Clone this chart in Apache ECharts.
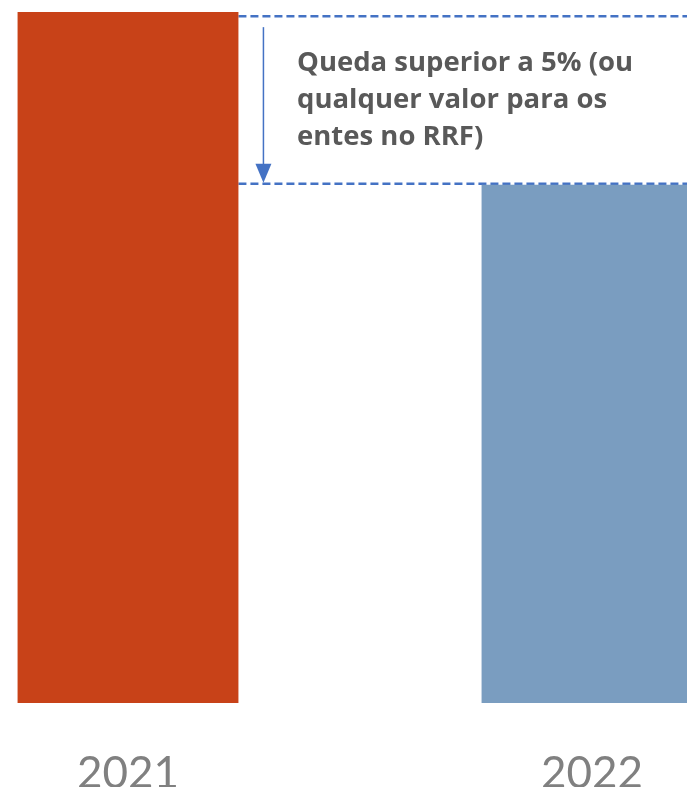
<!DOCTYPE html>
<html>
<head>
<meta charset="utf-8">
<script src="https://cdn.jsdelivr.net/npm/echarts@6/dist/echarts.min.js"></script>
<style>
  html, body { margin: 0; padding: 0; background: #fff; }
  #chart { width: 687px; height: 787px; }
</style>
</head>
<body>
<div id="chart"></div>
<script>
// Valores (escala relativa, 2021 = 100)
const years = ["2021", "2022"];
const values = [100, 75];
const barColors = ["#C84218", "#7A9DC0"];
const upperRef = 99.4; // linha tracejada superior
const lowerRef = 75;   // linha tracejada inferior
const noteLines = ["Queda superior a 5% (ou", "qualquer valor para os", "entes no RRF)"];

const blue = "#4472C4";
const gridW = 928;
const barRatio = 0.476;
const chart = echarts.init(document.getElementById("chart"));

chart.setOption({
  animation: false,
  grid: { left: -104, width: gridW, top: 12, bottom: 84, outerBoundsMode: "none", containLabel: false },
  xAxis: {
    type: "category",
    data: years,
    axisLine: { show: false },
    axisTick: { show: false },
    axisLabel: {
      color: "#808080",
      fontFamily: "Lato",
      fontSize: 44,
      margin: 49
    }
  },
  yAxis: {
    type: "value",
    min: 0,
    max: 100,
    show: false,
    splitLine: { show: false }
  },
  series: [{
    type: "bar",
    barWidth: (barRatio * 100) + "%",
    data: values.map((v, i) => ({ value: v, itemStyle: { color: barColors[i] } }))
  }]
});

function drawNotes() {
  const c0 = chart.convertToPixel({ gridIndex: 0 }, [years[0], values[0]]);
  const half = gridW / years.length * barRatio / 2;
  const x0 = c0[0] + half;
  const yUp = chart.convertToPixel({ gridIndex: 0 }, [years[0], upperRef])[1];
  const yLow = chart.convertToPixel({ gridIndex: 0 }, [years[1], lowerRef])[1] - 1;
  const dash = { stroke: blue, lineWidth: 2.5, lineDash: [8, 4] };
  const ax = x0 + 25;

  chart.setOption({
    graphic: [
      { type: "line", shape: { x1: x0, y1: yUp, x2: 687, y2: yUp }, style: dash },
      { type: "line", shape: { x1: x0, y1: yLow, x2: 687, y2: yLow }, style: dash },
      { type: "line", shape: { x1: ax, y1: yUp + 11, x2: ax, y2: yLow - 18 }, style: { stroke: blue, lineWidth: 1.5 } },
      { type: "polygon", shape: { points: [[ax - 8, yLow - 20], [ax + 8, yLow - 20], [ax, yLow - 1]] }, style: { fill: blue } },
      {
        type: "text",
        left: 297,
        top: 45,
        style: {
          text: noteLines.join("\n"),
          fill: "#595959",
          font: "bold 27.5px 'Open Sans'",
          lineHeight: 37
        }
      }
    ]
  });
}

drawNotes();
</script>
</body>
</html>
